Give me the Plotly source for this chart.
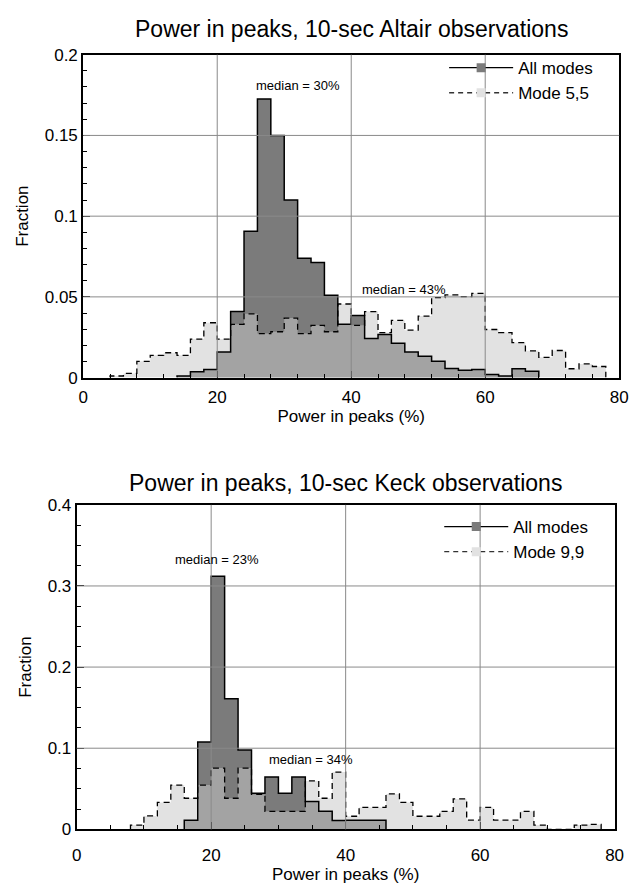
import plotly.graph_objects as go

# ---------------- data ----------------
BIN = 2  # histogram bin width (% units)

altair_all_start = 14
altair_all = [0.001, 0.0036, 0.005, 0.0158, 0.0409, 0.0907, 0.1725, 0.1499, 0.110,
              0.0739, 0.0713, 0.051, 0.033, 0.0385, 0.0243, 0.0267, 0.0213, 0.0158,
              0.0132, 0.0101, 0.0057, 0.0045, 0.005, 0.002, 0.001, 0.0055, 0.004]

altair_mode_start = 4
altair_mode = [0.001, 0.0026, 0.0101, 0.0138, 0.0154, 0.0138, 0.0239, 0.034, 0.0239,
               0.033, 0.0395, 0.0273, 0.0284, 0.0369, 0.0273, 0.0324, 0.0284, 0.0456,
               0.0324, 0.0409, 0.0279, 0.0354, 0.0294, 0.0381, 0.0496, 0.0512, 0.0502,
               0.0522, 0.0298, 0.0279, 0.0217, 0.0166, 0.0126, 0.0168, 0.0055, 0.0085,
               0.0069]

keck_all_start = 16
keck_all = [0.0113, 0.1077, 0.312, 0.161, 0.0977, 0.0444, 0.0646, 0.0444, 0.0646,
            0.0343, 0.0222, 0.0109, 0.0113, 0.0113, 0.0113]

keck_mode_start = 8
keck_mode = [0.0052, 0.0165, 0.0331, 0.0545, 0.0383, 0.0545, 0.0755, 0.0383, 0.0755,
             0.043, 0.0222, 0.0222, 0.0222, 0.0597, 0.0383, 0.0706, 0.0161, 0.027,
             0.027, 0.0436, 0.0331, 0.0161, 0.0161, 0.0222, 0.0375, 0.0113, 0.027,
             0.0113, 0.0113, 0.0222, 0.0052, 0.0, 0.0, 0.0052, 0.006]

x_ticks = [0, 20, 40, 60, 80]
altair_yticks = [0, 0.05, 0.1, 0.15, 0.2]
keck_yticks = [0, 0.1, 0.2, 0.3, 0.4]

titles = ["Power in peaks, 10-sec Altair observations",
          "Power in peaks, 10-sec Keck observations"]
mode_names = ["Mode 5,5", "Mode 9,9"]
medians = [[("median = 30%", 32.0, 0.1807), ("median = 43%", 47.9, 0.0543)],
           [("median = 23%", 20.9, 0.332), ("median = 34%", 34.8, 0.086)]]

# ---------------- style ----------------
DARK = "#7b7b7b"
MED = "#a3a3a3"
LIGHT = "#e2e2e2"
GRID = "#8a8a8a"
FONT = "Liberation Sans, Arial, Helvetica, sans-serif"
W, H = 637, 886


def step_xy(start, vals):
    edges = [start + BIN * i for i in range(len(vals) + 1)]
    xs = [edges[0]] + edges[:-1] + [edges[-1]]
    ys = [0] + list(vals) + [0]
    return xs, ys


def overlap(s1, v1, s2, v2):
    d1 = {s1 + BIN * i: v for i, v in enumerate(v1)}
    d2 = {s2 + BIN * i: v for i, v in enumerate(v2)}
    keys = sorted(set(d1) & set(d2))
    lo, hi = keys[0], keys[-1]
    vals = [min(d1.get(k, 0), d2.get(k, 0)) for k in range(lo, hi + BIN, BIN)]
    return lo, vals


fig = go.Figure()

panels = [
    dict(all_s=altair_all_start, all_v=altair_all, mode_s=altair_mode_start, mode_v=altair_mode,
         xa="x", ya="y", legend="legend", yticks=altair_yticks, ydt=0.05, ymin=0.01, xmin=4,
         xdom=[80 / W, 628 / W], ydom=[1 - 376.7 / H, 1 - 46.7 / H], title_py=20, xstand=3),
    dict(all_s=keck_all_start, all_v=keck_all, mode_s=keck_mode_start, mode_v=keck_mode,
         xa="x2", ya="y2", legend="legend2", yticks=keck_yticks, ydt=0.1, ymin=0.025, xmin=5,
         xdom=[73.3 / W, 623.3 / W], ydom=[1 - 838.3 / H, 1 - 506.7 / H], title_py=484, xstand=9),
]

shapes = []
annotations = []
for i, p in enumerate(panels):
    common = dict(xaxis=p["xa"], yaxis=p["ya"], line_shape="hv", mode="lines",
                  showlegend=False, hoverinfo="skip")
    mx, my = step_xy(p["mode_s"], p["mode_v"])
    ax, ay = step_xy(p["all_s"], p["all_v"])
    os_, ov = overlap(p["all_s"], p["all_v"], p["mode_s"], p["mode_v"])
    ox, oy = step_xy(os_, ov)
    fig.add_trace(go.Scatter(x=mx, y=my, fill="tozeroy", fillcolor=LIGHT,
                             line=dict(width=0, color=LIGHT), **common))
    fig.add_trace(go.Scatter(x=ax, y=ay, fill="tozeroy", fillcolor=DARK,
                             line=dict(width=0, color=DARK), **common))
    fig.add_trace(go.Scatter(x=ox, y=oy, fill="tozeroy", fillcolor=MED,
                             line=dict(width=0, color=MED), **common))
    fig.add_trace(go.Scatter(x=ax, y=ay, line=dict(width=1.5, color="black"), **common))
    fig.add_trace(go.Scatter(x=mx, y=my, line=dict(width=1.3, color="black", dash="6px,4px"),
                             **common))
    # legend entries
    fig.add_trace(go.Scatter(x=[None], y=[None], xaxis=p["xa"], yaxis=p["ya"],
                             mode="lines+markers", name="All modes", legend=p["legend"],
                             line=dict(color="black", width=1.3),
                             marker=dict(symbol="square", size=9, color=DARK)))
    fig.add_trace(go.Scatter(x=[None], y=[None], xaxis=p["xa"], yaxis=p["ya"],
                             mode="lines+markers", name=mode_names[i], legend=p["legend"],
                             line=dict(color="#333333", width=1.3, dash="5px,4px"),
                             marker=dict(symbol="square", size=9, color=LIGHT)))

    # grid lines above the fills
    for xv in x_ticks[1:-1]:
        shapes.append(dict(type="line", xref=p["xa"], yref=p["ya"] + " domain",
                           x0=xv, x1=xv, y0=0, y1=1, layer="above",
                           line=dict(color=GRID, width=1)))
    for yv in p["yticks"][1:-1]:
        shapes.append(dict(type="line", xref=p["xa"] + " domain", yref=p["ya"],
                           x0=0, x1=1, y0=yv, y1=yv, layer="above",
                           line=dict(color=GRID, width=1)))

    for txt, xv, yv in medians[i]:
        annotations.append(dict(text=txt, x=xv, y=yv, xref=p["xa"], yref=p["ya"],
                                showarrow=False, font=dict(size=13, color="black", family=FONT)))
    annotations.append(dict(text=titles[i], xref="paper", yref="paper",
                            x=(p["xdom"][0] + p["xdom"][1]) / 2,
                            y=1 - p["title_py"] / H, yanchor="middle", showarrow=False,
                            font=dict(size=23, color="black", family=FONT)))

    axis_common = dict(showline=True, linewidth=2, linecolor="black", mirror=True,
                       showgrid=False, zeroline=False, ticks="inside", ticklen=7,
                       tickcolor="black", tickwidth=1, layer="above traces",
                       tickfont=dict(size=17, color="black", family=FONT))
    xname = "xaxis" if p["xa"] == "x" else "xaxis2"
    yname = "yaxis" if p["ya"] == "y" else "yaxis2"
    fig.layout[xname] = dict(domain=p["xdom"], range=[0, 80], anchor=p["ya"],
                             tick0=0, dtick=20, ticklabelstandoff=p["xstand"],
                             minor=dict(dtick=p["xmin"], ticks="inside", ticklen=4,
                                        tickcolor="black"),
                             title=dict(text="Power in peaks (%)", standoff=4,
                                        font=dict(size=17, color="black", family=FONT)),
                             **axis_common)
    fig.layout[yname] = dict(domain=p["ydom"], range=[0, p["yticks"][-1]], anchor=p["xa"],
                             tick0=0, dtick=p["ydt"],
                             minor=dict(dtick=p["ymin"], ticks="inside", ticklen=4,
                                        tickcolor="black"),
                             title=dict(text="Fraction", standoff=12,
                                        font=dict(size=17, color="black", family=FONT)),
                             **axis_common)

legend_common = dict(font=dict(size=17, color="black", family=FONT), bgcolor="rgba(0,0,0,0)",
                     xanchor="left", yanchor="top", itemwidth=64, tracegroupgap=0,
                     itemclick=False)
fig.update_layout(
    width=W, height=H, margin=dict(l=0, r=0, t=0, b=0),
    paper_bgcolor="white", plot_bgcolor="white",
    font=dict(family=FONT, color="black"),
    shapes=shapes, annotations=annotations,
    legend=dict(x=449 / W, y=1 - 42 / H, **legend_common),
    legend2=dict(x=444 / W, y=1 - 511 / H, **legend_common),
)

fig.write_html("out.html")
